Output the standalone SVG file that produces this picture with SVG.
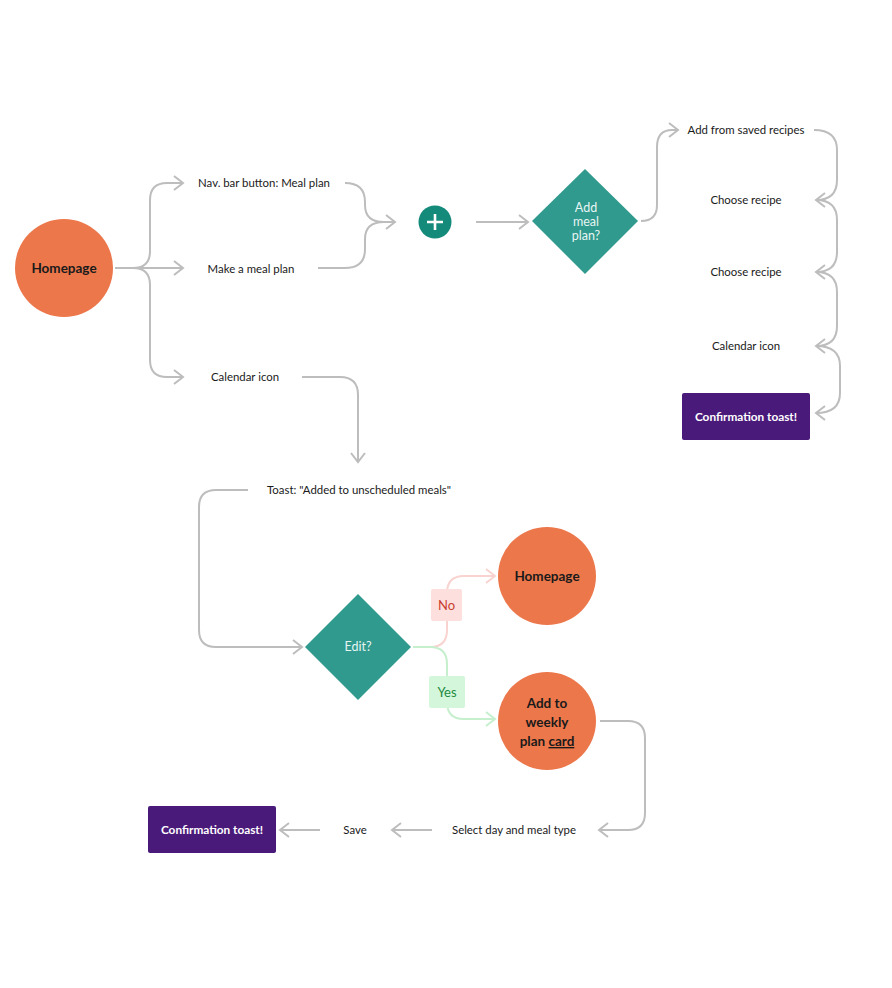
<svg xmlns="http://www.w3.org/2000/svg" width="892" height="988" viewBox="0 0 892 988">
<defs>
<marker id="ah" viewBox="0 0 12 16" refX="10" refY="8" markerWidth="12" markerHeight="16" markerUnits="userSpaceOnUse" orient="auto">
<path d="M1,1 L10,8 L1,15" fill="none" stroke="#bdbdbd" stroke-width="2"/>
</marker>
<marker id="ahNo" viewBox="0 0 12 16" refX="10" refY="8" markerWidth="12" markerHeight="16" markerUnits="userSpaceOnUse" orient="auto">
<path d="M1,1 L10,8 L1,15" fill="none" stroke="#f8d3d0" stroke-width="2"/>
</marker>
<marker id="ahYes" viewBox="0 0 12 16" refX="10" refY="8" markerWidth="12" markerHeight="16" markerUnits="userSpaceOnUse" orient="auto">
<path d="M1,1 L10,8 L1,15" fill="none" stroke="#c6efce" stroke-width="2"/>
</marker>
</defs>
<style>
text{font-family:Lato,"Open Sans","Liberation Sans",sans-serif;}
.lbl{font-size:11.4px;fill:#1a1a1a;text-anchor:middle;}
.circ{fill:#ec774b;}
.ctext{font-size:13.5px;font-weight:bold;fill:#1a1a1a;text-anchor:middle;}
.dia{fill:#2f9a8d;}
.dtext{font-size:12.5px;fill:#e8f5f3;text-anchor:middle;}
.toast{fill:#4a1a7a;}
.ttext{font-size:11.8px;font-weight:bold;fill:#ffffff;text-anchor:middle;}
.con{fill:none;stroke:#bdbdbd;stroke-width:2;marker-end:url(#ah);}
.con0{fill:none;stroke:#bdbdbd;stroke-width:2;}
</style>
<rect width="892" height="988" fill="#ffffff"/>
<g id="connectors">
<path class="con" d="M115,268 H133 Q150,268 150,251 V200 Q150,183 167,183 H183"/>
<path class="con" d="M115,268 H183"/>
<path class="con" d="M133,268 Q150,268 150,285 V360 Q150,377 167,377 H183"/>
<path class="con" d="M345,183 Q365,183 365,202 V205 Q365,222 384,222 H395"/>
<path class="con0" d="M318,268 H345 Q365,268 365,249 V239 Q365,222 384,222"/>
<path class="con" d="M476,222 H528"/>
<path class="con" d="M641,221 Q657,221 657,205 V147 Q657,130 672,130 H678"/>
<path class="con" d="M814,130 Q837,130 837,150 V180 Q837,200 816,200"/>
<path class="con" d="M816,200 Q837,200 837,220 V252 Q837,272 816,272"/>
<path class="con" d="M816,272 Q837,272 837,292 V326 Q837,346 816,346"/>
<path class="con" d="M816,346 Q840,346 840,366 V393 Q840,413 816,413"/>
<path class="con" d="M302,377 H340 Q358,377 358,395 V462"/>
<path class="con" d="M248,490 H216 Q199,490 199,507 V630 Q199,647 216,647 H302"/>
<path d="M413,647 H430 Q447,647 447,630 V593 Q447,576 464,576 H495" fill="none" stroke="#f8d3d0" stroke-width="2" marker-end="url(#ahNo)"/>
<path d="M413,647 H430 Q447,647 447,664 V702 Q447,719 464,719 H495" fill="none" stroke="#c6efce" stroke-width="2" marker-end="url(#ahYes)"/>
<path class="con" d="M600,721 H628 Q645,721 645,738 V813 Q645,830 628,830 H599"/>
<path class="con" d="M432,830 H392"/>
<path class="con" d="M320,830 H280"/>
</g>
<g id="homepage1"><circle class="circ" cx="64" cy="268" r="49"/><text class="ctext" x="64" y="273">Homepage</text></g>
<g id="navbar"><text class="lbl" x="264" y="187">Nav. bar button: Meal plan</text></g>
<g id="makeplan"><text class="lbl" x="251" y="273">Make a meal plan</text></g>
<g id="calendar1"><text class="lbl" x="245" y="381">Calendar icon</text></g>
<g id="plus"><circle cx="435" cy="222" r="16.5" fill="#148a7b"/><path d="M435,214 V230 M427,222 H443" stroke="#ffffff" stroke-width="2.6"/></g>
<g id="addmealplan"><polygon class="dia" points="585,169 638,221 585,274 532,221"/><text class="dtext" x="586" y="212">Add</text><text class="dtext" x="586" y="226">meal</text><text class="dtext" x="586" y="240">plan?</text></g>
<g id="addsaved"><text class="lbl" x="746" y="134">Add from saved recipes</text></g>
<g id="choose1"><text class="lbl" x="746" y="204">Choose recipe</text></g>
<g id="choose2"><text class="lbl" x="746" y="276">Choose recipe</text></g>
<g id="calendar2"><text class="lbl" x="746" y="350">Calendar icon</text></g>
<g id="toast1"><rect class="toast" x="682" y="393" width="128" height="47" rx="2"/><text class="ttext" x="746" y="421">Confirmation toast!</text></g>
<g id="toastmsg"><text class="lbl" x="359" y="494">Toast: "Added to unscheduled meals"</text></g>
<g id="edit"><polygon class="dia" points="358,594 411,647 358,700 305,647"/><text class="dtext" x="358" y="651">Edit?</text></g>
<g id="nolabel"><rect x="431" y="589" width="31" height="32" rx="2" fill="#fde0de"/><text x="446.5" y="610" font-size="13" fill="#c9402f" text-anchor="middle">No</text></g>
<g id="yeslabel"><rect x="429" y="676" width="36" height="32" rx="2" fill="#d4f7dc"/><text x="447" y="697" font-size="13" fill="#1e8a3e" text-anchor="middle">Yes</text></g>
<g id="homepage2"><circle class="circ" cx="547" cy="576" r="49"/><text class="ctext" x="547" y="581">Homepage</text></g>
<g id="addweekly"><circle class="circ" cx="547" cy="721" r="49"/><text class="ctext" x="547" y="708">Add to</text><text class="ctext" x="547" y="727">weekly</text><text class="ctext" x="547" y="746">plan <tspan text-decoration="underline">card</tspan></text></g>
<g id="selectday"><text class="lbl" x="514" y="834">Select day and meal type</text></g>
<g id="save"><text class="lbl" x="355" y="834">Save</text></g>
<g id="toast2"><rect class="toast" x="148" y="806" width="128" height="47" rx="2"/><text class="ttext" x="212" y="834">Confirmation toast!</text></g>
</svg>
